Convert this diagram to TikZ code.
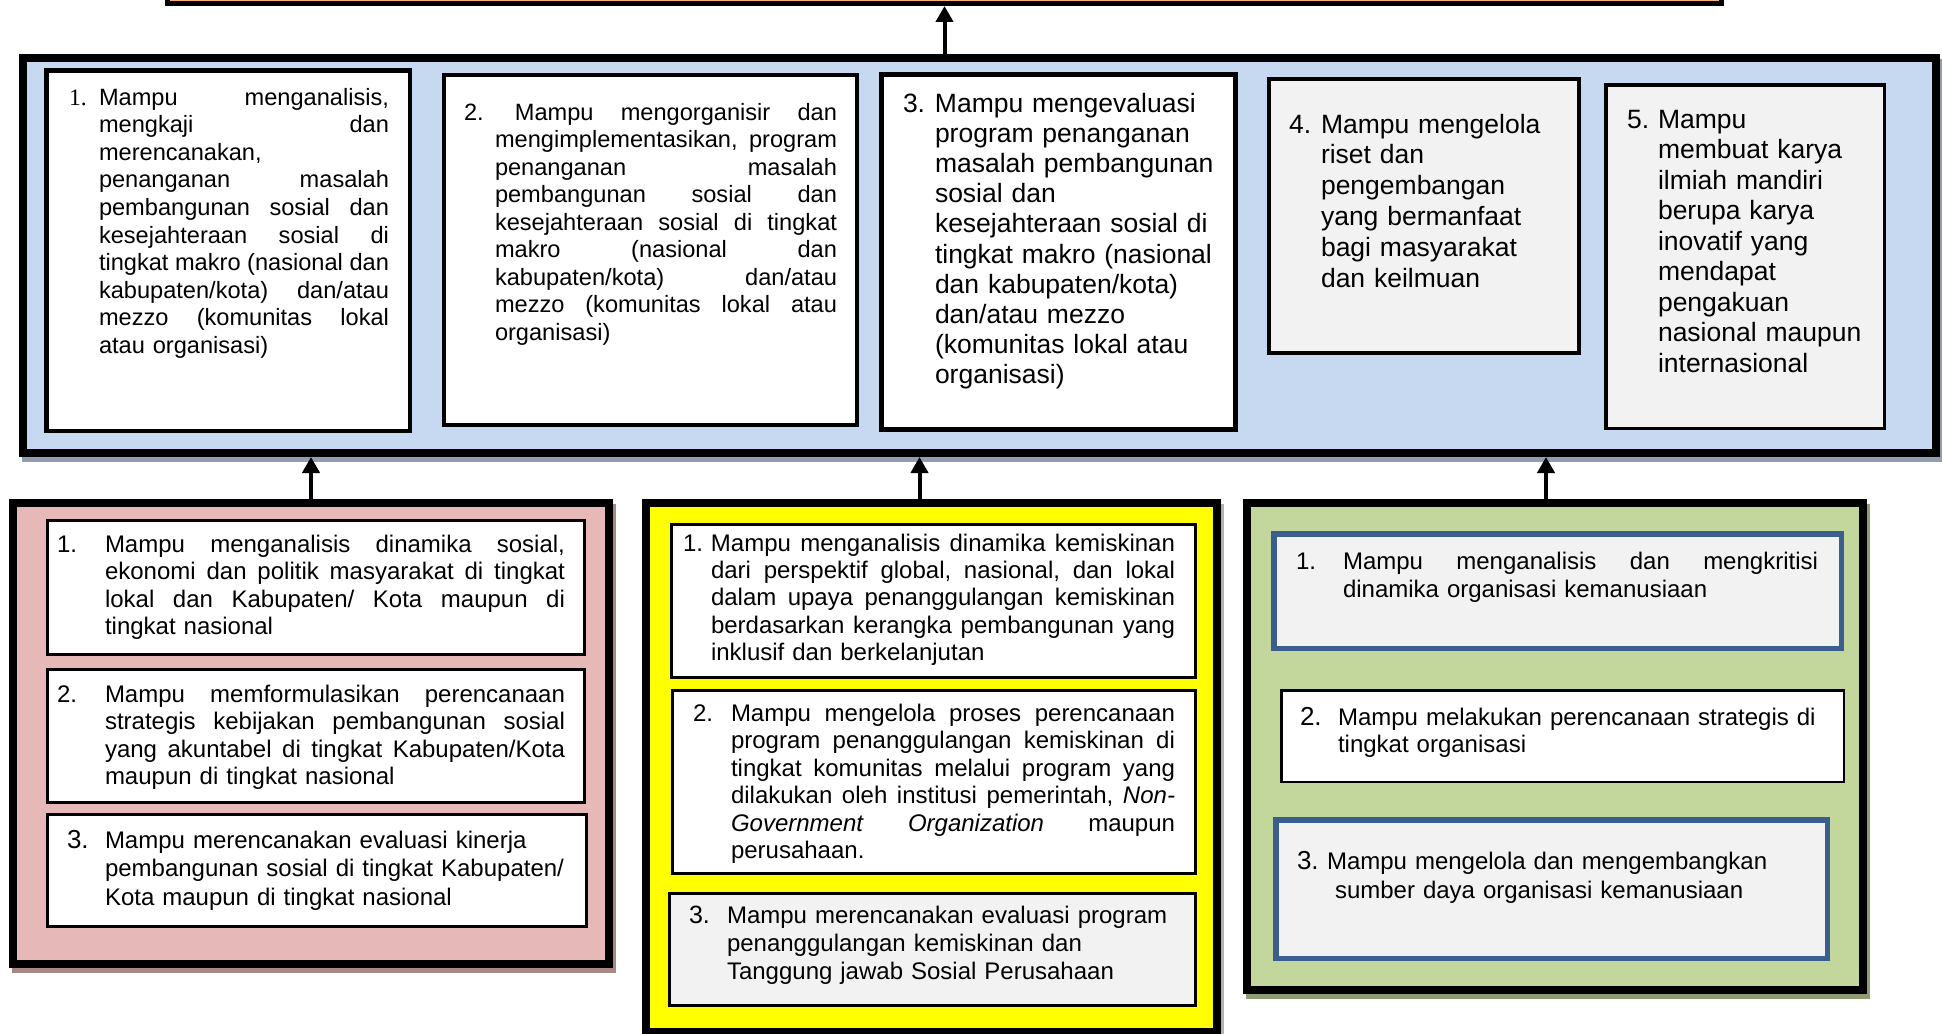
\documentclass[tikz,border=0pt]{standalone}
\usepackage{fontspec}
\setmainfont{Liberation Sans}
\newfontfamily\numserif{Liberation Serif}
\usetikzlibrary{arrows.meta,calc}

\definecolor{bluebg}{HTML}{C6D9F1}
\definecolor{pinkbg}{HTML}{E6B9B8}
\definecolor{yellowbg}{HTML}{FFFF00}
\definecolor{greenbg}{HTML}{C3D69B}
\definecolor{peach}{HTML}{F7B27A}
\definecolor{paper}{HTML}{F2F2F2}
\definecolor{frameblue}{HTML}{3A5F8F}

% hanging indent of the body text behind the item number, and body width
\newlength\ind
\newlength\bw
% a justified piece of text of width #1: the word spaces take all the stretch
\newcommand\spread[2]{\hbox to #1{\frenchspacing\spaceskip=\fontdimen2\font plus 1fil\relax #2}}
% first line: number + justified body
\newcommand\FJ[2]{\leavevmode\hbox to \ind{#1\hfil}\spread{\bw}{#2}\\}
% first line: number + ragged body
\newcommand\FL[2]{\leavevmode\hbox to \ind{#1\hfil}#2\\}
% following lines: justified / ragged / last
\newcommand\JJ[1]{\leavevmode\hbox to \ind{\hfil}\spread{\bw}{#1}\\}
\newcommand\LL[1]{\leavevmode\hbox to \ind{\hfil}#1\\}
\newcommand\LE[1]{\leavevmode\hbox to \ind{\hfil}#1}

% box from its outer corners (x0,y0)-(x1,y1) with line width lw
\newcommand\bx[7][]{\node[#1, line width=#7pt, minimum width={#5-#3-#7}, minimum height={#6-#4-#7}, anchor=north west] (#2) at (#3,#4) {};}
% same, with an offset shadow behind it
\newcommand\sbx[8][]{\fill[#8] (#3+3,#4+5) rectangle (#5+3,#6+5);\bx[#1]{#2}{#3}{#4}{#5}{#6}{#7}}

\tikzset{
  frame/.style={draw=black, rectangle, inner sep=0pt},
  item/.style={draw=black, rectangle, inner sep=0pt, fill=white},
  itemgray/.style={item, fill=paper},
  itemblue/.style={draw=frameblue, rectangle, inner sep=0pt, fill=paper},
  txt/.style={anchor=base west, inner sep=0pt, outer sep=0pt, text width=600pt},
  up/.style={line width=4pt, -{Triangle[width=17pt,length=16pt]}},
}

\begin{document}
\begin{tikzpicture}[x=1pt,y=-1pt]
\useasboundingbox (0,0) rectangle (1942,1033);

% top frame (cut by the page edge)
\bx[frame, fill=peach]{top}{165}{-40}{1724}{6}{5}

% middle frame with the five learning outcomes
\sbx[frame, fill=bluebg]{blue}{19}{54}{1940}{457}{8}{bluebg!73!black}
\bx[item]{b1}{44}{68}{412}{433}{4.5}
\bx[item]{b2}{442}{73}{859}{427}{4}
\bx[item]{b3}{879}{72}{1238}{432}{5}
\bx[itemgray]{b4}{1267}{77}{1581}{355}{4}
\bx[itemgray]{b5}{1604}{83}{1886}{430}{3.5}

% lower frames
\sbx[frame, fill=pinkbg]{pink}{9}{499}{613}{968}{8}{pinkbg!73!black}
\bx[item]{p1}{46}{519}{586}{656}{3}
\bx[item]{p2}{46}{668}{586}{804}{3}
\bx[item]{p3}{46}{813}{588}{928}{3}

\sbx[frame, fill=yellowbg]{yellow}{642}{499}{1221}{1036}{8}{black!30}
\bx[item]{y1}{670}{523}{1197}{679}{3}
\bx[item]{y2}{671}{689}{1197}{875}{3}
\bx[itemgray]{y3}{668}{892}{1197}{1007}{3}

\sbx[frame, fill=greenbg]{green}{1243}{499}{1867}{994}{8}{greenbg!73!black}
\bx[itemblue]{g1}{1271}{531}{1844}{651}{5.5}
\bx[item]{g2}{1280}{689}{1845}{783}{2.5}
\bx[itemblue]{g3}{1273}{817}{1830}{961}{5.5}

% connectors
\draw[up] (blue.north -| top.south) -- (top.south);
\draw[up] (pink.north) -- (pink.north |- blue.south);
\coordinate (ya) at ($(yellow.north)+(-12,0)$);
\draw[up] (ya) -- (ya |- blue.south);
\coordinate (ga) at ($(green.north)+(-9,0)$);
\draw[up] (ga) -- (ga |- blue.south);

% texts of the middle frame
\node[txt, font={\fontsize{23.6}{27.6}\selectfont}] (tb1) at (69,105) {\setlength\ind{30pt}\setlength\bw{290pt}%
\FJ{\numserif 1.}{Mampu menganalisis,}
\JJ{mengkaji dan}
\LL{merencanakan,}
\JJ{penanganan masalah}
\JJ{pembangunan sosial dan}
\JJ{kesejahteraan sosial di}
\JJ{tingkat makro (nasional dan}
\JJ{kabupaten/kota) dan/atau}
\JJ{mezzo (komunitas lokal}
\LE{atau organisasi)}};

\node[txt, font={\fontsize{23.6}{27.5}\selectfont}] (tb2) at (464,120) {\setlength\ind{31pt}\setlength\bw{342pt}%
\leavevmode\spread{373pt}{2. \,Mampu mengorganisir dan}\\
\JJ{mengimplementasikan, program}
\JJ{penanganan masalah}
\JJ{pembangunan sosial dan}
\JJ{kesejahteraan sosial di tingkat}
\JJ{makro (nasional dan}
\JJ{kabupaten/kota) dan/atau}
\JJ{mezzo (komunitas lokal atau}
\LE{organisasi)}};

\node[txt, font={\fontsize{26.5}{30.2}\selectfont}] (tb3) at (903,112) {\setlength\ind{32pt}%
\FL{3.}{Mampu mengevaluasi}
\LL{program penanganan}
\LL{masalah pembangunan}
\LL{sosial dan}
\LL{kesejahteraan sosial di}
\LL{tingkat makro (nasional}
\LL{dan kabupaten/kota)}
\LL{dan/atau mezzo}
\LL{(komunitas lokal atau}
\LE{organisasi)}};

\node[txt, font={\fontsize{26.5}{30.8}\selectfont}] (tb4) at (1289,133) {\setlength\ind{32pt}%
\FL{4.}{Mampu mengelola}
\LL{riset dan}
\LL{pengembangan}
\LL{yang bermanfaat}
\LL{bagi masyarakat}
\LE{dan keilmuan}};

\node[txt, font={\fontsize{26.5}{30.5}\selectfont}] (tb5) at (1627,128) {\setlength\ind{31pt}%
\FL{5.}{Mampu}
\LL{membuat karya}
\LL{ilmiah mandiri}
\LL{berupa karya}
\LL{inovatif yang}
\LL{mendapat}
\LL{pengakuan}
\LL{nasional maupun}
\LE{internasional}};

% texts of the pink frame
\node[txt, font={\fontsize{24}{27.5}\selectfont}] (tp1) at (57,552) {\setlength\ind{48pt}\setlength\bw{460pt}%
\FJ{1.}{Mampu menganalisis dinamika sosial,}
\JJ{ekonomi dan politik masyarakat di tingkat}
\JJ{lokal dan Kabupaten/ Kota maupun di}
\LE{tingkat nasional}};

\node[txt, font={\fontsize{24}{27.5}\selectfont}] (tp2) at (57,702) {\setlength\ind{48pt}\setlength\bw{460pt}%
\FJ{2.}{Mampu memformulasikan perencanaan}
\JJ{strategis kebijakan pembangunan sosial}
\JJ{yang akuntabel di tingkat Kabupaten/Kota}
\LE{maupun di tingkat nasional}};

\node[txt, font={\fontsize{24}{28.5}\selectfont}] (tp3) at (67,848) {\setlength\ind{38pt}%
\FL{\fontsize{26}{28.5}\selectfont 3.}{Mampu merencanakan evaluasi kinerja}
\LL{pembangunan sosial di tingkat Kabupaten/}
\LE{Kota maupun di tingkat nasional}};

% texts of the yellow frame
\node[txt, font={\fontsize{24}{27.4}\selectfont}] (ty1) at (683,551) {\setlength\ind{28pt}\setlength\bw{464pt}%
\FJ{1.}{Mampu menganalisis dinamika kemiskinan}
\JJ{dari perspektif global, nasional, dan lokal}
\JJ{dalam upaya penanggulangan kemiskinan}
\JJ{berdasarkan kerangka pembangunan yang}
\LE{inklusif dan berkelanjutan}};

\node[txt, font={\fontsize{24}{27.5}\selectfont}] (ty2) at (693,721) {\setlength\ind{38pt}\setlength\bw{444pt}%
\FJ{2.}{Mampu mengelola proses perencanaan}
\JJ{program penanggulangan kemiskinan di}
\JJ{tingkat komunitas melalui program yang}
\JJ{dilakukan oleh institusi pemerintah, \textit{Non-}}
\JJ{\textit{Government} \textit{Organization} maupun}
\LE{perusahaan.}};

\node[txt, font={\fontsize{24}{28}\selectfont}] (ty3) at (689,923) {\setlength\ind{38pt}%
\FL{\fontsize{25}{28}\selectfont 3.}{Mampu merencanakan evaluasi program}
\LL{penanggulangan kemiskinan dan}
\LE{Tanggung jawab Sosial Perusahaan}};

% texts of the green frame
\node[txt, font={\fontsize{24}{28}\selectfont}] (tg1) at (1296,569) {\setlength\ind{47pt}\setlength\bw{475pt}%
\FJ{1.}{Mampu menganalisis dan mengkritisi}
\LE{dinamika organisasi kemanusiaan}};

\node[txt, font={\fontsize{24}{27}\selectfont}] (tg2) at (1300,725) {\setlength\ind{38pt}%
\FL{\fontsize{26}{27}\selectfont 2.}{Mampu melakukan perencanaan strategis di}
\LE{tingkat organisasi}};

\node[txt, font={\fontsize{24}{29}\selectfont}] (tg3) at (1297,869) {\setlength\ind{38pt}%
\leavevmode\hbox to 30pt{\fontsize{26}{29}\selectfont 3.\hfil}Mampu mengelola dan mengembangkan\\
\LE{sumber daya organisasi kemanusiaan}};

\end{tikzpicture}
\end{document}
